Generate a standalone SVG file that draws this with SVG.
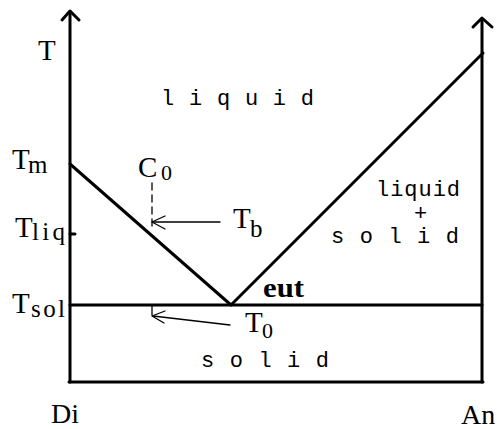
<svg xmlns="http://www.w3.org/2000/svg" width="497" height="429" viewBox="0 0 497 429">
<style>
.ax{stroke:#000;stroke-width:3;fill:none;stroke-linecap:round;stroke-linejoin:round}
.th{stroke:#000;stroke-width:1.3;fill:none;stroke-linecap:round;stroke-linejoin:round}
.se{font-family:"Liberation Serif","Times New Roman",serif;fill:#000}
.mo{font-family:"Liberation Mono","Courier New",monospace;fill:#000;font-size:22px}
</style>
<rect width="497" height="429" fill="#fff"/>
<g id="axes">
<line class="ax" x1="70" y1="13" x2="70" y2="382"/>
<polyline class="ax" stroke-width="2.5" points="62,20 70,11 79,20"/>
<line class="ax" x1="482" y1="19" x2="482" y2="382"/>
<polyline class="ax" stroke-width="2.5" points="473,27 482,18 492,27"/>
<line class="ax" x1="69" y1="382" x2="483" y2="382"/>
<line class="ax" stroke-width="2" x1="70" y1="234" x2="75" y2="234"/>
</g>
<g id="phase-lines">
<line class="ax" x1="70" y1="305" x2="482" y2="305"/>
<polyline class="ax" points="70,164 231,305 483,53"/>
</g>
<g id="connectors">
<line class="th" x1="152" y1="183" x2="152" y2="228" stroke-dasharray="7,5"/>
<line class="th" x1="220" y1="222" x2="153" y2="222"/>
<polyline class="th" points="165,216 152,222 165,229"/>
<line class="th" x1="152" y1="306" x2="152" y2="315"/>
<line class="th" x1="230" y1="325" x2="153" y2="316"/>
<polyline class="th" points="165,311 152,316 164,323"/>
</g>
<g id="labels">
<text class="se" x="38" y="60" font-size="29">T</text>
<text class="se" x="12" y="169" font-size="29">T<tspan font-size="25" dy="4" x="28" textLength="21">m</tspan></text>
<text class="se" x="15" y="237" font-size="29">T<tspan font-size="25" dy="3" x="32" textLength="33">liq</tspan></text>
<text class="se" x="12" y="313" font-size="29">T<tspan font-size="25" dy="4" x="31" textLength="34">sol</tspan></text>
<text class="se" x="138" y="177" font-size="29">C<tspan font-size="22" dy="3" x="161">0</tspan></text>
<text class="se" x="233" y="228" font-size="29">T<tspan font-size="25" dy="9" x="250">b</tspan></text>
<text class="se" x="245" y="332" font-size="29">T<tspan font-size="22" dy="6" x="262">0</tspan></text>
<text class="se" x="263" y="297" font-size="28" font-weight="bold" textLength="41" lengthAdjust="spacingAndGlyphs">eut</text>
<text class="se" x="51" y="423" font-size="28">Di</text>
<text class="se" x="461" y="424" font-size="28">An</text>
</g>
<g id="regions">
<text class="mo" x="161" y="105" textLength="153">l i q u i d</text>
<text class="mo" x="376" y="196" textLength="84">liquid</text>
<text class="mo" x="414" y="220" font-size="12">+</text>
<text class="mo" x="331" y="243" textLength="128">s o l i d</text>
<text class="mo" x="201" y="367" textLength="128">s o l i d</text>
</g>
</svg>
